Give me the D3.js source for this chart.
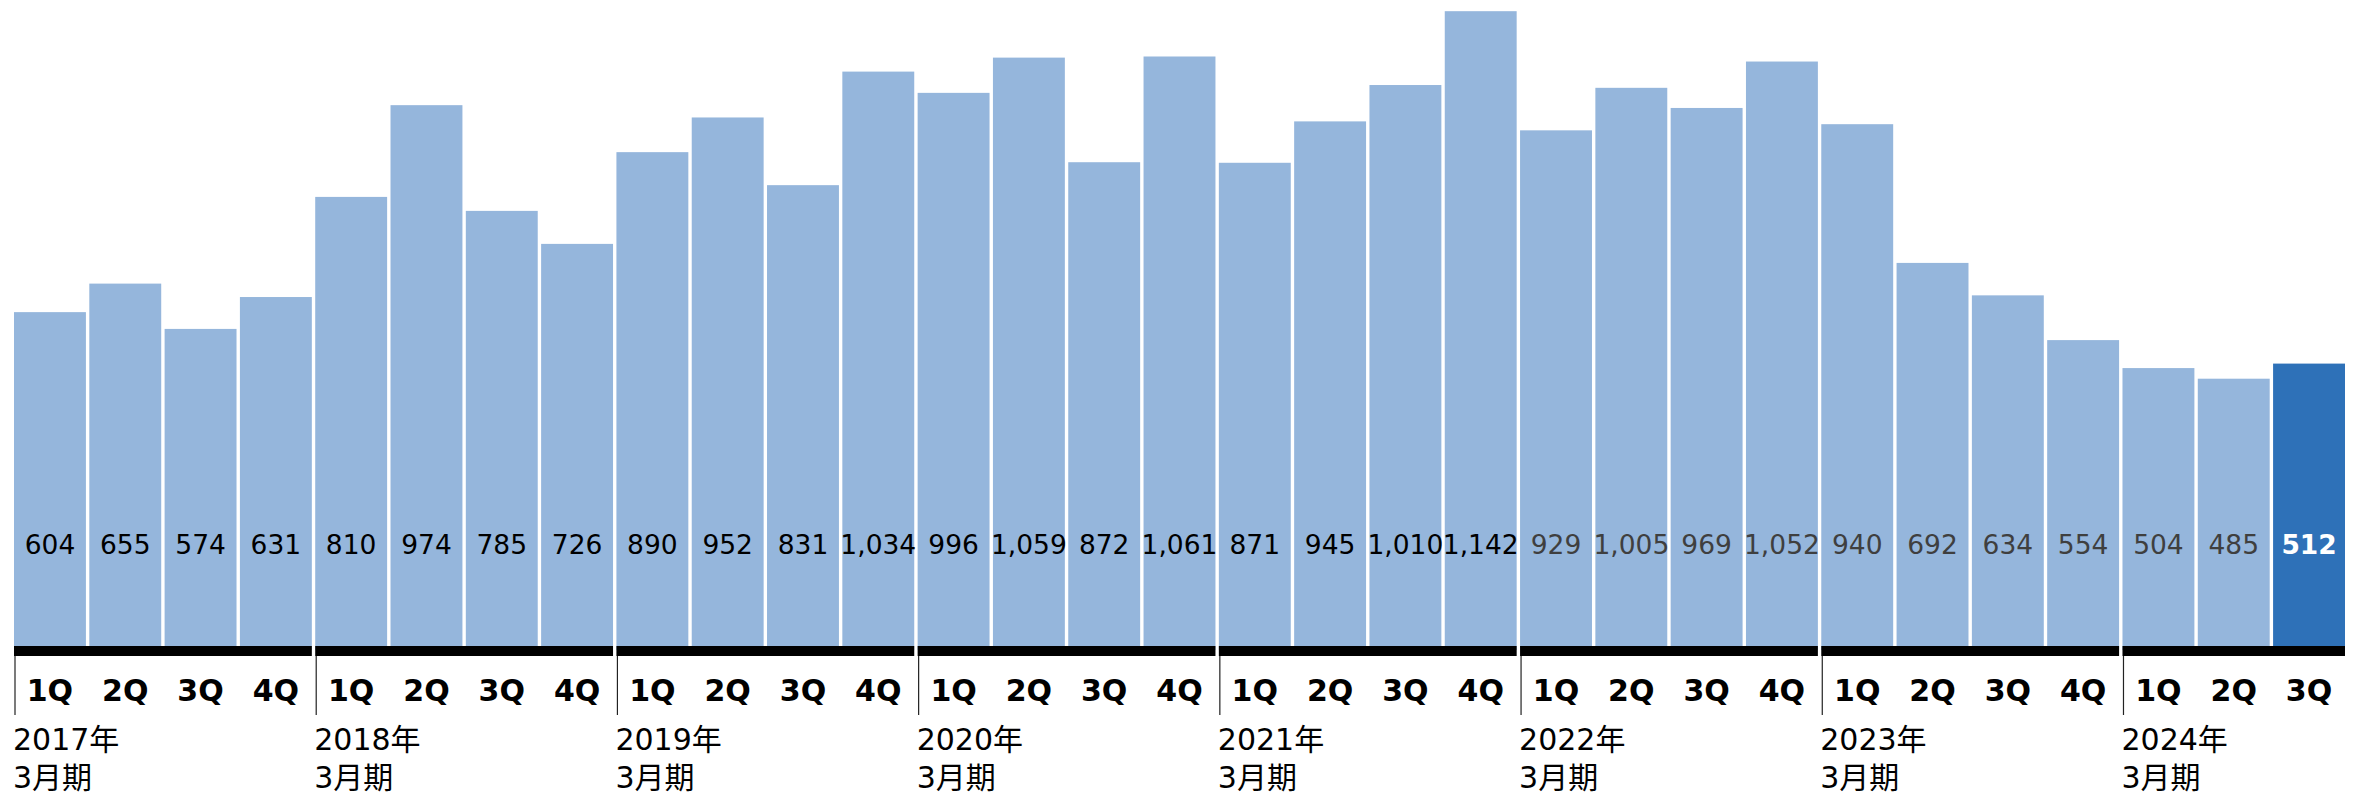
<!DOCTYPE html>
<html>
<head>
<meta charset="utf-8">
<script src="https://cdn.jsdelivr.net/npm/d3@7"></script>
<style>
  body { margin: 0; background: #fff; }
  text { font-family: "DejaVu Sans", Verdana, "Noto Sans CJK JP", sans-serif; }
</style>
</head>
<body>
<div id="chart"></div>
<script>
// fiscal years (March year-end) and quarter labels
const fiscalYears = ["2017年", "2018年", "2019年", "2020年", "2021年", "2022年", "2023年", "2024年"];
const quarterNames = ["1Q", "2Q", "3Q", "4Q"];
const periodSuffix = "3月期";

// quarterly values, 2017年3月期 1Q .. 2024年3月期 3Q
const values = [
  604, 655, 574, 631,
  810, 974, 785, 726,
  890, 952, 831, 1034,
  996, 1059, 872, 1061,
  871, 945, 1010, 1142,
  929, 1005, 969, 1052,
  940, 692, 634, 554,
  504, 485, 512
];

const width = 2359, height = 794;

let data = values.map((v, i) => ({
  key: i,
  year: Math.floor(i / 4),
  q: quarterNames[i % 4],
  value: v,
  latest: i === values.length - 1
}));

let svg = d3.select("#chart")
  .append("svg")
  .attr("width", width)
  .attr("height", height);

let x = d3.scaleBand()
  .domain(data.map(d => d.key))
  .range([14, 2345])
  .paddingInner(0.045)
  .paddingOuter(0);

let y = d3.scaleLinear()
  .domain([0, 1162])
  .range([650, 0]);

const barBase = 650;
const bandTop = 646, bandBottom = 656;

// bars
svg.selectAll(".bar")
  .data(data)
  .enter().append("rect")
  .attr("class", "bar")
  .attr("x", d => x(d.key))
  .attr("y", d => y(d.value))
  .attr("width", x.bandwidth())
  .attr("height", d => barBase - y(d.value))
  .attr("fill", d => d.latest ? "#2e71b8" : "#95b6dc");

// value labels inside the bars
svg.selectAll(".val")
  .data(data)
  .enter().append("text")
  .attr("class", "val")
  .attr("x", d => x(d.key) + x.bandwidth() / 2)
  .attr("y", 544)
  .attr("dy", "0.36em")
  .attr("text-anchor", "middle")
  .style("font-size", "26.5px")
  .style("font-weight", d => d.latest ? "bold" : "normal")
  .style("fill", d => d.latest ? "#ffffff" : (d.year >= 5 ? "#3f3f3f" : "#000000"))
  .text(d => d3.format(",")(d.value));

// one black strip per fiscal year
let yearGroups = d3.groups(data, d => d.year).map(([yr, rows]) => ({
  year: yr,
  x0: x(rows[0].key),
  x1: x(rows[rows.length - 1].key) + x.bandwidth()
}));

svg.selectAll(".strip")
  .data(yearGroups)
  .enter().append("rect")
  .attr("class", "strip")
  .attr("x", d => d.x0)
  .attr("y", bandTop)
  .attr("width", d => d.x1 - d.x0)
  .attr("height", bandBottom - bandTop)
  .attr("fill", "#000");

// year separator ticks
svg.selectAll(".sep")
  .data(yearGroups)
  .enter().append("line")
  .attr("class", "sep")
  .attr("x1", d => d.x0 + 1)
  .attr("x2", d => d.x0 + 1)
  .attr("y1", bandBottom)
  .attr("y2", 715)
  .attr("stroke", "#222")
  .attr("stroke-width", 1.2);

// quarter labels
svg.selectAll(".qlab")
  .data(data)
  .enter().append("text")
  .attr("class", "qlab")
  .attr("x", d => x(d.key) + x.bandwidth() / 2)
  .attr("y", 690)
  .attr("dy", "0.36em")
  .attr("text-anchor", "middle")
  .style("font-size", "30px")
  .style("font-weight", "bold")
  .style("fill", "#000")
  .text(d => d.q);

// fiscal year labels (two lines)
let ylab = svg.selectAll(".ylab")
  .data(yearGroups)
  .enter().append("text")
  .attr("class", "ylab")
  .attr("x", d => d.x0 - 1)
  .style("font-size", "30px")
  .style("fill", "#000");

ylab.append("tspan")
  .attr("x", d => d.x0 - 1)
  .attr("y", 750)
  .text(d => fiscalYears[d.year]);

ylab.append("tspan")
  .attr("x", d => d.x0 - 1)
  .attr("y", 788)
  .text(periodSuffix);
</script>
</body>
</html>
